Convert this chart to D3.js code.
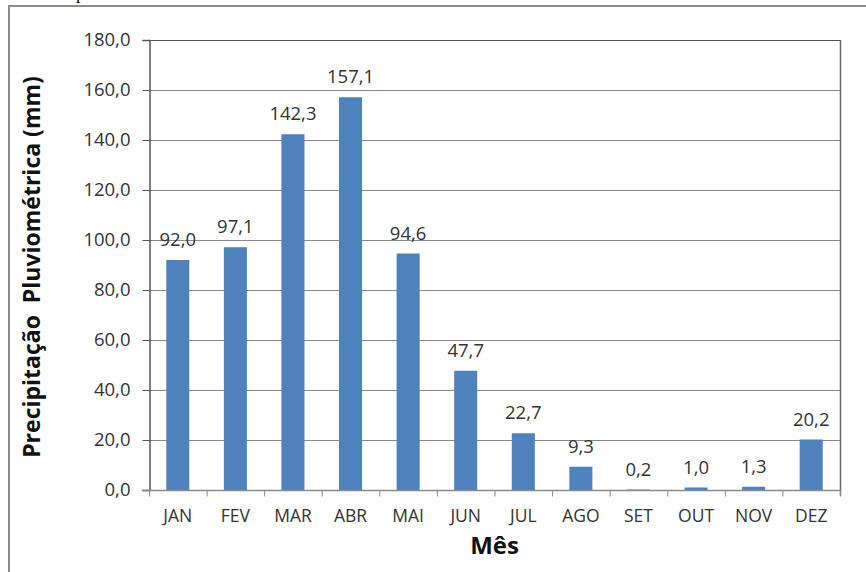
<!DOCTYPE html>
<html>
<head>
<meta charset="utf-8">
<script src="https://cdn.jsdelivr.net/npm/d3@7"></script>
<style>
  html, body { margin: 0; padding: 0; background: #fff; }
  svg { display: block; }
</style>
</head>
<body>
<svg id="chart" width="866" height="572"></svg>
<script>
// Monthly rainfall (mm)
const months = ["JAN", "FEV", "MAR", "ABR", "MAI", "JUN", "JUL", "AGO", "SET", "OUT", "NOV", "DEZ"];
const rainfall = [92.0, 97.1, 142.3, 157.1, 94.6, 47.7, 22.7, 9.3, 0.2, 1.0, 1.3, 20.2];
const yTicks = [0, 20, 40, 60, 80, 100, 120, 140, 160, 180];

const fmt = v => v.toFixed(1).replace(".", ",");

const svg = d3.select("#chart");
const W = 866, H = 572;
const plot = { left: 149, top: 40, right: 840, bottom: 490 };
const labelFont = "Open Sans, sans-serif";

// Outer frame of the chart object (runs past the page edge on right and bottom)
svg.append("rect")
  .attr("x", 9).attr("y", 6)
  .attr("width", W + 20).attr("height", H + 20)
  .attr("fill", "#fff")
  .attr("stroke", "#8c8c8c").attr("stroke-width", 2);

// Fragment of the caption line sitting above the frame
svg.append("text")
  .attr("x", 76).attr("y", -1)
  .attr("font-family", "Liberation Serif, serif")
  .attr("font-size", 18)
  .attr("fill", "#000")
  .text("p");

const x = d3.scaleBand()
  .domain(months)
  .range([plot.left, plot.right])
  .paddingInner(0.6)
  .paddingOuter(0.3);

const xOuter = d3.scaleBand()
  .domain(months)
  .range([plot.left, plot.right]);

const y = d3.scaleLinear()
  .domain([0, 180])
  .range([plot.bottom, plot.top]);

// Horizontal gridlines
svg.append("g")
  .selectAll("line")
  .data(yTicks.filter(t => t > 0))
  .join("line")
  .attr("x1", plot.left).attr("x2", plot.right)
  .attr("y1", d => y(d) + 0.5).attr("y2", d => y(d) + 0.5)
  .attr("stroke", d => d === 180 ? "#555" : "#8a8a8a")
  .attr("stroke-width", 1);

// Right border of the plot area
svg.append("line")
  .attr("x1", plot.right + 0.5).attr("x2", plot.right + 0.5)
  .attr("y1", plot.top).attr("y2", plot.bottom + 6)
  .attr("stroke", "#6a6a6a").attr("stroke-width", 1.5);

// Bars
svg.append("g")
  .selectAll("rect")
  .data(rainfall)
  .join("rect")
  .attr("x", (d, i) => x(months[i]))
  .attr("width", x.bandwidth())
  .attr("y", d => y(d))
  .attr("height", d => y(0) - y(d))
  .attr("fill", "#4f81bd");

// Value labels
svg.append("g")
  .selectAll("text")
  .data(rainfall)
  .join("text")
  .attr("x", (d, i) => x(months[i]) + x.bandwidth() / 2)
  .attr("y", d => y(d) - 14)
  .attr("text-anchor", "middle")
  .attr("font-family", labelFont)
  .attr("font-size", 18.5)
  .attr("fill", "#333")
  .text(d => fmt(d));

// Y axis
const yAxis = d3.axisLeft(y)
  .tickValues(yTicks)
  .tickFormat(fmt)
  .tickSize(7)
  .tickPadding(12);

const gy = svg.append("g")
  .attr("transform", `translate(${plot.left + 0.5},0)`)
  .call(yAxis);
gy.select(".domain").attr("stroke", "#555").attr("stroke-width", 1.5);
gy.selectAll(".tick line").attr("stroke", "#555");
gy.selectAll(".tick text")
  .attr("font-family", labelFont)
  .attr("font-size", 18.5)
  .attr("fill", "#333");

// X axis: ticks at category boundaries
const gx = svg.append("g")
  .attr("transform", `translate(0,${plot.bottom + 0.5})`);
gx.append("line")
  .attr("x1", plot.left - 7).attr("x2", plot.right)
  .attr("stroke", "#8a8a8a").attr("stroke-width", 1.5);
const bounds = months.map(m => xOuter(m)).concat([plot.right]);
gx.selectAll("line.tk")
  .data(bounds)
  .join("line")
  .attr("class", "tk")
  .attr("x1", d => d + 0.5).attr("x2", d => d + 0.5)
  .attr("y1", 0).attr("y2", 6)
  .attr("stroke", "#8a8a8a");
gx.selectAll("text")
  .data(months)
  .join("text")
  .attr("x", m => xOuter(m) + xOuter.bandwidth() / 2)
  .attr("y", 31.5)
  .attr("text-anchor", "middle")
  .attr("font-family", labelFont)
  .attr("font-size", 17.5)
  .attr("fill", "#333")
  .text(m => m);

// Axis titles
svg.append("text")
  .attr("transform", `translate(40,${(plot.top + plot.bottom) / 2 + 2}) rotate(-90)`)
  .attr("text-anchor", "middle")
  .attr("font-family", labelFont)
  .attr("font-weight", "bold")
  .attr("font-size", 23)
  .attr("fill", "#111")
  .attr("xml:space", "preserve")
  .text("Precipitação  Pluviométrica (mm)");

svg.append("text")
  .attr("x", (plot.left + plot.right) / 2)
  .attr("y", 554)
  .attr("text-anchor", "middle")
  .attr("font-family", labelFont)
  .attr("font-weight", "bold")
  .attr("font-size", 24)
  .attr("fill", "#111")
  .text("Mês");
</script>
</body>
</html>
